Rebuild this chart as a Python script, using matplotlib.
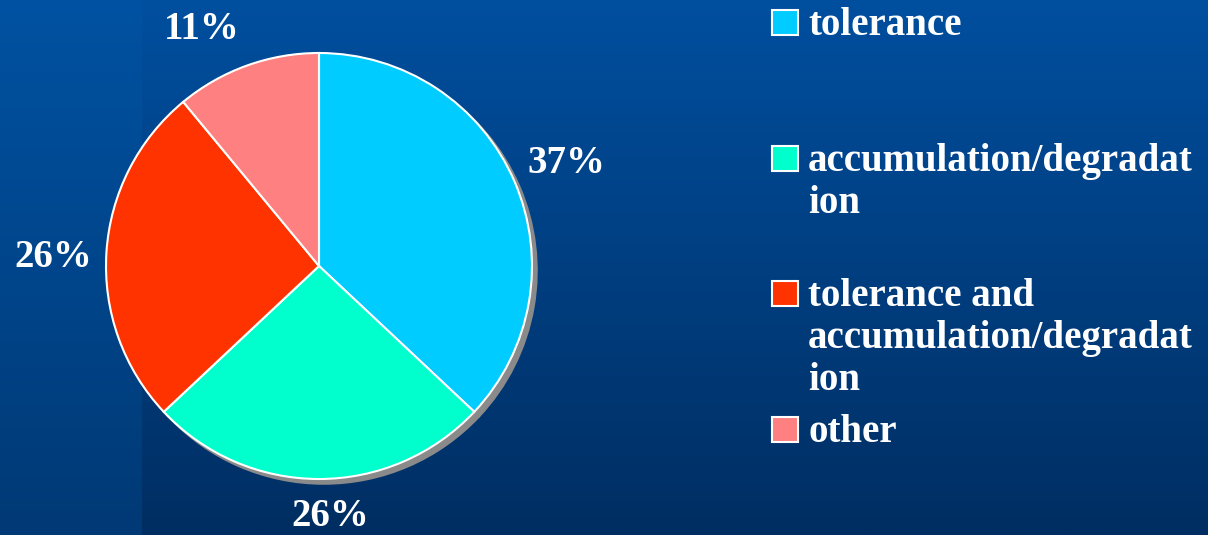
import numpy as np
import matplotlib.pyplot as plt
from matplotlib.patches import Rectangle

# data
labels = ["tolerance", "accumulation/degradat\nion",
          "tolerance and\naccumulation/degradat\nion", "other"]
shares = [37, 26, 26, 11]
colors = ["#00CCFF", "#00FFCC", "#FF3300", "#FF8080"]

plt.rcParams['font.family'] = ['Liberation Serif', 'DejaVu Serif']
plt.rcParams['font.weight'] = 'bold'

W, H = 1208, 535
fig = plt.figure(figsize=(W / 100, H / 100), dpi=100)

# background: vertical blue gradient, slightly lighter strip at the left
bg = fig.add_axes([0, 0, 1, 1])
t = np.linspace(0, 1, 256)[:, None]
def gradient(top, bot):
    top, bot = np.array(top) / 255, np.array(bot) / 255
    return np.repeat(top + (bot - top) * t[..., None], 2, axis=1)
bg.imshow(gradient([0, 79, 159], [0, 46, 98]), extent=(0, W, H, 0), aspect='auto', zorder=0)
bg.imshow(gradient([0, 82, 162], [0, 57, 117]), extent=(0, 142, H, 0), aspect='auto', zorder=0.5)
bg.set_xlim(0, W)
bg.set_ylim(H, 0)
bg.axis('off')

# pie
ax = fig.add_axes([106 / W, 56 / H, 426 / W, 426 / H])
wedges, texts, autotexts = ax.pie(
    shares, colors=colors, startangle=90, counterclock=False,
    autopct='%d%%', pctdistance=1.25,
    wedgeprops=dict(edgecolor='white', linewidth=1.5),
    shadow=dict(ox=0.016, oy=-0.016, facecolor='#8A8A8A', edgecolor='#8A8A8A', alpha=1),
    textprops=dict(color='white', fontsize=28, fontweight='bold'))
label_pos = [(1.16, 0.437), (0.052, -1.222), (-1.249, -0.005), (-0.549, 1.066)]
for a, p in zip(autotexts, label_pos):
    a.set_position(p)
    a.set_verticalalignment('baseline')
    a.set_clip_on(False)
ax.set_xlim(-1, 1)
ax.set_ylim(-1, 1)
ax.set_aspect('equal')

# legend
legend_base = [35, 171, 306, 442]
line_gap = 42
for lab, col, y in zip(labels, colors, legend_base):
    bg.add_patch(Rectangle((772, y - 25), 26, 25, facecolor=col,
                           edgecolor='white', linewidth=1.5, zorder=3))
    for i, line in enumerate(lab.split('\n')):
        bg.text(808, y + i * line_gap, line, color='white', fontsize=28,
                fontweight='bold', va='baseline', ha='left', zorder=3)

fig.savefig('out.png', dpi=100)
